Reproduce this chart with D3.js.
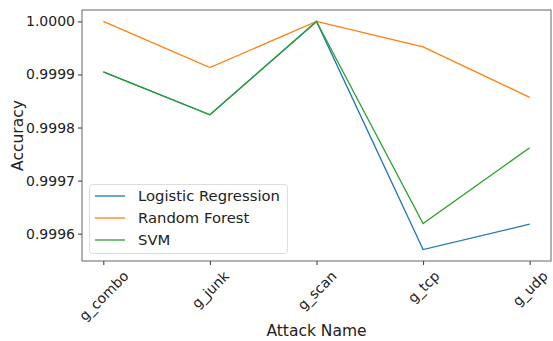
<!DOCTYPE html>
<html><head><meta charset="utf-8">
<script src="https://cdn.jsdelivr.net/npm/d3@7"></script>
<style>body{margin:0;background:#fff}svg{display:block}text{font-family:"DejaVu Sans",sans-serif;fill:#222}</style>
</head><body><svg id="c" width="553" height="341"></svg>
<script>
const categories = ["g_combo","g_junk","g_scan","g_tcp","g_udp"];
const seriesNames = ["Logistic Regression","Random Forest","SVM"];
const logisticRegression = [0.999905, 0.999824, 1.0, 0.999570, 0.999618];
const randomForest = [1.0, 0.999913, 1.0, 0.999952, 0.999857];
const svm = [0.999905, 0.999824, 1.0, 0.999619, 0.999762];
const yTicks = [0.9996, 0.9997, 0.9998, 0.9999, 1.0];
const colors = ["#1f77b4","#ff7f0e","#2ca02c"];
const seriesValues = [logisticRegression, randomForest, svm];

const svg = d3.select("#c");
const L = 82, R = 551, T = 10, B = 261;
const xs = d3.scaleLinear().domain([-0.2, categories.length - 0.8]).range([L, R]);
const y = d3.scaleLinear().domain([0.9995485, 1.0000215]).range([B, T]);

const ax = svg.append("g").attr("transform", `translate(0,${B})`)
  .call(d3.axisBottom(xs).tickValues(d3.range(categories.length)).tickFormat(i => categories[i]).tickSize(4));
ax.select(".domain").remove();
ax.selectAll("line").attr("stroke", "#333");
ax.selectAll("text").attr("font-size", 14).attr("text-anchor", "middle").attr("y", 0).attr("dy", "0.35em")
  .each(function() {
    const w = this.getComputedTextLength();
    const h = 14;
    const bh = (w + h) * Math.SQRT1_2;
    const cy = 4 + 3.5 + bh / 2;
    d3.select(this).attr("transform", `translate(0,${cy}) rotate(-45)`);
  });

const ay = svg.append("g").attr("transform", `translate(${L},0)`)
  .call(d3.axisLeft(y).tickValues(yTicks).tickFormat(d3.format(".4f")).tickSize(4));
ay.select(".domain").remove();
ay.selectAll("line").attr("stroke", "#333");
ay.selectAll("text").attr("font-size", 14).attr("x", -7);

const line = d3.line().x((d, i) => xs(i)).y(d => y(d));
seriesValues.forEach((vals, k) => {
  svg.append("path").datum(vals).attr("d", line).attr("fill", "none")
    .attr("stroke", colors[k]).attr("stroke-width", 1.3);
});

svg.append("rect").attr("x", L).attr("y", T).attr("width", R - L).attr("height", B - T)
  .attr("fill", "none").attr("stroke", "#555").attr("stroke-width", 0.9);

const lg = svg.append("g");
lg.append("rect").attr("x", 89.5).attr("y", 184.5).attr("width", 198).attr("height", 69)
  .attr("rx", 3).attr("fill", "#fff").attr("fill-opacity", 0.8).attr("stroke", "#ddd");
seriesNames.forEach((n, k) => {
  const yy = 196 + k * 22;
  lg.append("line").attr("x1", 95).attr("x2", 125).attr("y1", yy).attr("y2", yy)
    .attr("stroke", colors[k]).attr("stroke-width", 1.3);
  lg.append("text").attr("x", 138).attr("y", yy).attr("dy", "0.35em").attr("font-size", 14.8).text(n);
});

svg.append("text").attr("x", (L + R) / 2).attr("y", 336).attr("text-anchor", "middle")
  .attr("font-size", 15.5).text("Attack Name");
svg.append("text").attr("transform", `translate(23,${(T + B) / 2}) rotate(-90)`)
  .attr("text-anchor", "middle").attr("font-size", 15.5).text("Accuracy");
</script></body></html>
